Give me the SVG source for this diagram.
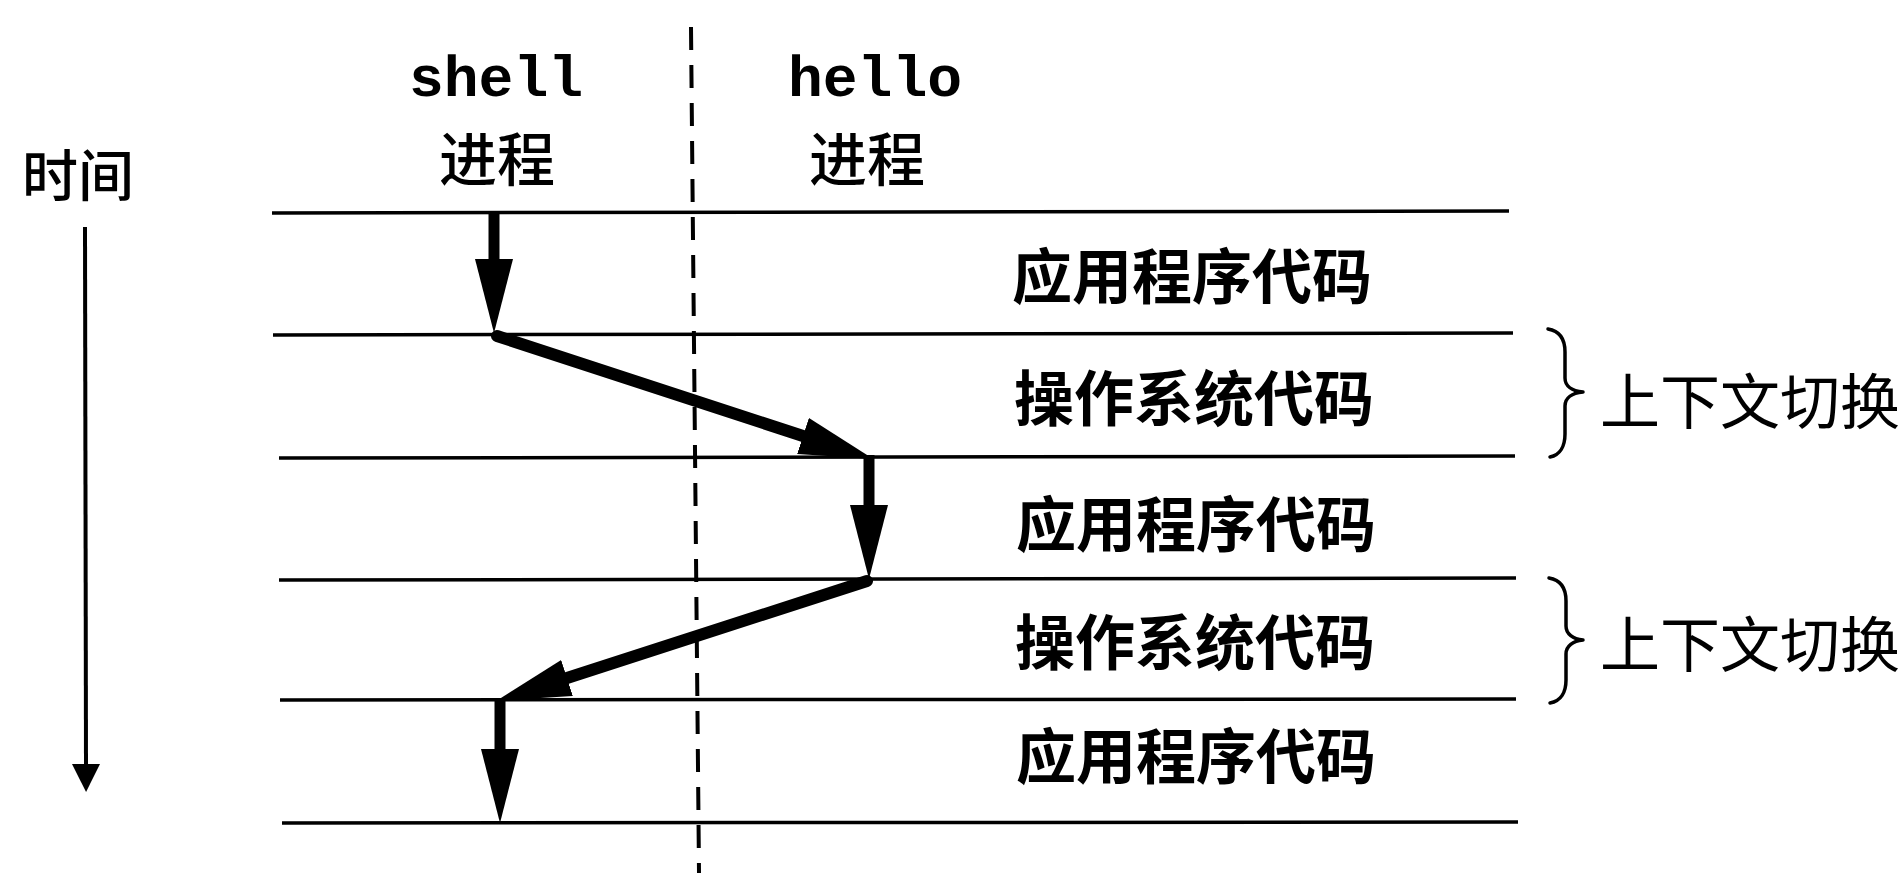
<svg xmlns="http://www.w3.org/2000/svg" width="1903" height="873" viewBox="0 0 1903 873">
<style>
.bg{fill:#fff}
.hline{stroke:#000;stroke-width:3.5;fill:none}
.dash{stroke:#000;stroke-width:4;stroke-dasharray:23 15;fill:none}
.shaft{stroke:#000;stroke-width:11;fill:none;stroke-linecap:butt}
.dshaft{stroke:#000;stroke-width:12;fill:none;stroke-linecap:round}
.time{stroke:#000;stroke-width:4;fill:none}
.brace{stroke:#000;stroke-width:3.5;fill:none;stroke-linecap:round;stroke-linejoin:round}
.mono{font-family:"Liberation Mono","DejaVu Sans Mono",monospace;font-size:58px;font-weight:700;fill:#000;text-anchor:middle}
.cjk{font-family:"Noto Sans CJK SC","Noto Sans",sans-serif;fill:#000;text-anchor:middle}
.head{font-size:58px;font-weight:500}
.lbl{font-size:60px;font-weight:700}
.ctx{font-size:60px;font-weight:400;text-anchor:start}
.tm{font-size:56px;font-weight:500}
</style>
<defs>
<marker id="big" markerUnits="userSpaceOnUse" markerWidth="80" markerHeight="40" refX="0" refY="19" orient="auto" viewBox="0 0 80 40">
<path d="M0,0 L74,19 L0,38 z" fill="#000"/>
</marker>
<marker id="small" markerUnits="userSpaceOnUse" markerWidth="32" markerHeight="30" refX="0" refY="14" orient="auto" viewBox="0 0 32 30">
<path d="M0,0 L28,14 L0,28 z" fill="#000"/>
</marker>
</defs>
<rect class="bg" x="0" y="0" width="1903" height="873"/>

<g id="timeline">
<text class="cjk tm" x="78" y="196">时间</text>
<line class="time" x1="85" y1="227" x2="86" y2="764" marker-end="url(#small)"/>
</g>

<g id="shell-process">
<text class="mono" x="496" y="96">shell</text>
<text class="cjk head" x="497" y="181">进程</text>
</g>

<g id="hello-process">
<text class="mono" x="875" y="96">hello</text>
<text class="cjk head" x="867" y="181">进程</text>
</g>

<g id="separator">
<line class="dash" x1="691" y1="27" x2="699" y2="873"/>
</g>

<g id="boundaries">
<line class="hline" x1="272" y1="213" x2="1509" y2="211"/>
<line class="hline" x1="273" y1="335" x2="1513" y2="333"/>
<line class="hline" x1="279" y1="458" x2="1515" y2="456"/>
<line class="hline" x1="279" y1="580" x2="1516" y2="578"/>
<line class="hline" x1="280" y1="700" x2="1516" y2="699"/>
<line class="hline" x1="282" y1="823" x2="1518" y2="822"/>
</g>

<g id="row-app-1"><text class="cjk lbl" x="1192" y="299">应用程序代码</text></g>
<g id="row-os-1"><text class="cjk lbl" x="1194" y="421">操作系统代码</text></g>
<g id="row-app-2"><text class="cjk lbl" x="1196" y="547">应用程序代码</text></g>
<g id="row-os-2"><text class="cjk lbl" x="1195" y="665">操作系统代码</text></g>
<g id="row-app-3"><text class="cjk lbl" x="1196" y="779">应用程序代码</text></g>

<g id="context-switch-1">
<path class="brace" d="M1548,329 C1560,331 1565,340 1565,352 L1565,378 C1565,386 1572,391 1583,392 C1572,393 1565,398 1565,406 L1565,434 C1565,446 1560,455 1550,457"/>
<text class="cjk ctx" x="1600" y="424">上下文切换</text>
</g>

<g id="context-switch-2">
<path class="brace" d="M1549,578 C1561,580 1566,589 1566,601 L1566,626 C1566,634 1573,639 1583,640 C1573,641 1566,646 1566,654 L1566,680 C1566,692 1561,701 1550,703"/>
<text class="cjk ctx" x="1600" y="667">上下文切换</text>
</g>

<g id="connectors">
<line class="shaft" x1="494" y1="211" x2="494" y2="259" marker-end="url(#big)"/>
<line class="dshaft" x1="497" y1="336" x2="803" y2="436" marker-end="url(#big)"/>
<line class="shaft" x1="869" y1="455" x2="869" y2="505" marker-end="url(#big)"/>
<line class="dshaft" x1="867" y1="581" x2="567" y2="678" marker-end="url(#big)"/>
<line class="shaft" x1="500" y1="698" x2="500" y2="749" marker-end="url(#big)"/>
</g>
</svg>
